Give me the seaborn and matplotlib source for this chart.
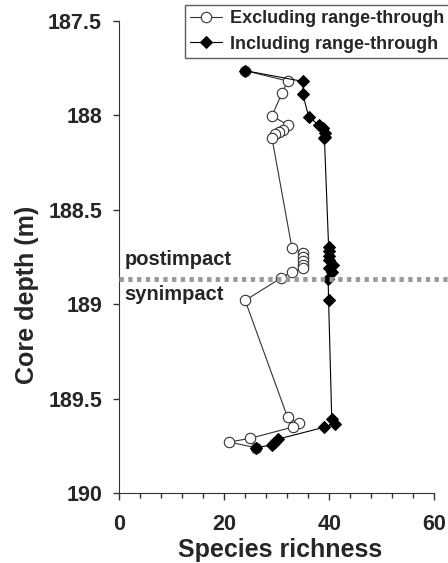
import matplotlib
matplotlib.use("Agg")
import matplotlib.pyplot as plt
import seaborn as sns
import pandas as pd
from matplotlib.ticker import MultipleLocator

# Species richness vs core depth
excl_richness = [24.0, 32.1, 31.0, 29.1, 32.1, 31.2, 30.5, 29.7, 29.1,
                 32.9, 35.1, 35.1, 35.1, 35.1, 35.1, 32.9, 30.9, 24.0,
                 32.1, 34.2, 33.2, 25.0, 21.0, 26.0]
excl_depth = [187.763, 187.818, 187.883, 188.003, 188.05, 188.077, 188.09, 188.10, 188.118,
              188.70, 188.73, 188.75, 188.77, 188.79, 188.81, 188.83, 188.86, 188.98,
              189.60, 189.63, 189.65, 189.71, 189.73, 189.76]

incl_richness = [24.0, 35.0, 35.0, 36.1, 38.0, 38.9, 39.2, 39.2, 39.1,
                 39.9, 39.9, 39.9, 39.9, 40.8, 39.9, 40.5, 39.8, 39.9,
                 40.5, 41.1, 39.0, 30.2, 29.5, 29.1, 26.1]
incl_depth = [187.763, 187.82, 187.888, 188.007, 188.05, 188.067, 188.093, 188.114, 188.12,
              188.695, 188.72, 188.745, 188.766, 188.79, 188.808, 188.83, 188.866, 188.98,
              189.61, 189.636, 189.652, 189.715, 189.733, 189.745, 189.76]

boundary_depth = 188.865

sns.set_style("ticks")
plt.rcParams['font.family'] = ['Liberation Sans', 'DejaVu Sans']
plt.rcParams['font.weight'] = 'bold'

excl = pd.DataFrame({"richness": excl_richness, "depth": excl_depth})
incl = pd.DataFrame({"richness": incl_richness, "depth": incl_depth})

fig = plt.figure(figsize=(4.48, 5.63), dpi=100)
ax = fig.add_axes([0.266, 0.1243, 0.703, 0.8384])

sns.lineplot(data=excl, x="richness", y="depth", sort=False, estimator=None, ax=ax,
             color="#333333", linewidth=0.8, marker="o", markersize=7.5,
             markerfacecolor="white", markeredgecolor="#333333", markeredgewidth=0.8,
             label="Excluding range-through", zorder=3)
sns.lineplot(data=incl, x="richness", y="depth", sort=False, estimator=None, ax=ax,
             color="black", linewidth=0.8, marker="D", markersize=6.5,
             markerfacecolor="black", markeredgecolor="black",
             label="Including range-through", zorder=4)

# impact boundary
ax.plot([0, 62.7], [boundary_depth, boundary_depth], color="#999999", linewidth=3.5,
        linestyle=(0, (0.9, 0.9)), clip_on=False, zorder=5)
ax.text(1, boundary_depth - 0.05, "postimpact", fontsize=14.5, fontweight="bold", va="bottom")
ax.text(1, boundary_depth + 0.035, "synimpact", fontsize=14.5, fontweight="bold", va="top")

ax.set_xlim(0, 60)
ax.set_ylim(190, 187.5)
ax.xaxis.set_major_locator(MultipleLocator(20))
ax.xaxis.set_minor_locator(MultipleLocator(4))
ax.set_yticks([187.5, 188, 188.5, 189, 189.5, 190])
ax.set_yticklabels(["187.5", "188", "188.5", "189", "189.5", "190"])
ax.tick_params(axis="both", which="major", labelsize=15.5, width=1, color="#333333")
ax.tick_params(axis="x", which="major", length=5, pad=10)
ax.tick_params(axis="x", which="minor", length=3.6, width=1, color="#333333")
ax.tick_params(axis="y", which="major", length=4.3, pad=8)
for lab in ax.get_xticklabels() + ax.get_yticklabels():
    lab.set_fontweight("bold")

ax.set_xlabel("Species richness", fontsize=18, fontweight="bold", va="center")
ax.xaxis.set_label_coords(0.51, -0.121)
ax.set_ylabel("Core depth (m)", fontsize=18, fontweight="bold", va="center")
ax.yaxis.set_label_coords(-0.292, 0.42)

sns.despine(ax=ax)
ax.spines["left"].set_color("#333333")
ax.spines["bottom"].set_color("#333333")

leg = ax.legend(loc="upper right", bbox_to_anchor=(1.003, 0.991), bbox_transform=fig.transFigure,
                fontsize=13, frameon=True, fancybox=False, handlelength=1.8,
                handletextpad=0.4, borderpad=0.3, labelspacing=0.45, borderaxespad=0)
leg.get_frame().set_edgecolor("#333333")
leg.get_frame().set_linewidth(1)
for t in leg.get_texts():
    t.set_fontweight("bold")

fig.savefig("out.png", dpi=100)
